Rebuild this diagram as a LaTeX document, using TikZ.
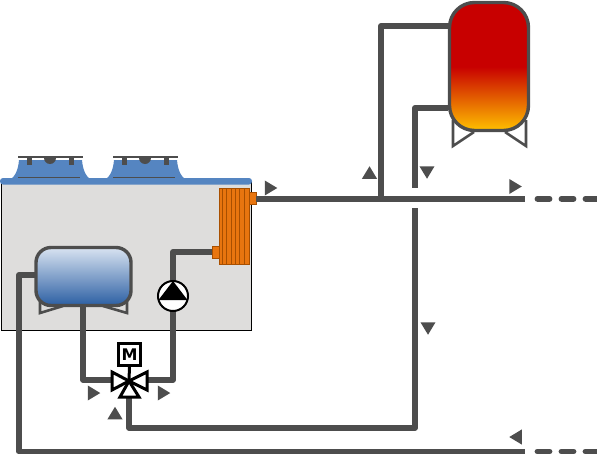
\documentclass[tikz,border=0pt]{standalone}
\usepackage{fontspec}
\setsansfont{DejaVu Sans}
\usetikzlibrary{shapes.geometric}
\definecolor{pipegray}{HTML}{4D4D4D}
\definecolor{housing}{HTML}{DEDDDC}
\definecolor{fanblue}{HTML}{5585C1}
\definecolor{coilorange}{HTML}{E8750F}
\definecolor{coilline}{HTML}{A84F00}
\definecolor{hotred}{HTML}{C80000}
\definecolor{hotyellow}{HTML}{FFBF00}
\definecolor{coldtop}{HTML}{D8E3F1}
\definecolor{coldlow}{HTML}{2C5FA3}
\tikzset{
  pipe/.style={pipegray, line width=5.8pt, line join=round},
  pipeend/.style={pipegray, line width=5.8pt, line cap=round, dash pattern=on 12pt off 12pt},
  tankleg/.style={pipegray, line width=2.6pt},
  tankbody/.style={draw=pipegray, line width=3.4pt, inner sep=0pt, outer sep=0pt},
  flowtip/.style={isosceles triangle, isosceles triangle apex angle=62, fill=pipegray, inner sep=0pt, outer sep=0pt, minimum height=12.5pt},
  coilpart/.style={draw=coilline, fill=coilorange, line width=0.8pt, inner sep=0pt, outer sep=0pt},
  valvepart/.style={draw=black, fill=white, line width=3pt, line join=miter}
}
\begin{document}
\begin{tikzpicture}[x=1pt,y=-1pt]
\useasboundingbox (0,0) rectangle (597,455);
% housing
\draw[black, fill=housing, line width=0.8pt] (1,182) rectangle (251,330);
% fans
\foreach \fx in {0,95} {
  \begin{scope}[xshift=\fx pt]
    \fill[fanblue] (8,181) .. controls (14,178) and (18,172) .. (19,160) -- (82,160) .. controls (83,172) and (87,178) .. (93,181) -- cycle;
    \draw[pipegray, line width=1pt] (18,177) -- (80,177);
    \fill[pipegray] (44,158) arc[start angle=180, end angle=0, x radius=6, y radius=6] -- cycle;
    \draw[pipegray, line width=5pt] (29,157) -- (29,164.5);
    \draw[pipegray, line width=5pt] (71,157) -- (71,164.5);
    \draw[pipegray, line width=2.8pt] (18,157) -- (83,157);
  \end{scope}
}
\fill[fanblue, rounded corners=3pt] (0,184.5) -- (0,178) -- (252,178) -- (252,184.5) -- cycle;
% coordinates on the pipes
\coordinate (flowend) at (525,198.7);
\coordinate (returnend) at (525,451.5);
\coordinate (teeup) at (381,198.7);
\coordinate (hottop) at (448,26);
\coordinate (hotlow) at (448,108);
\coordinate (dropcut) at (415,188);
\coordinate (dropout) at (415,208);
\coordinate (mixbottom) at (129,428);
\coordinate (coldout) at (35,275);
\coordinate (coldcorner) at (19,275);
\coordinate (coldbase) at (83,306);
\coordinate (valveleft) at (83,380);
\coordinate (pumpcorner) at (173,252);
\coordinate (valveright) at (173,380);
% hot tank legs and blue tank legs
\draw[tankleg] (453,120) -- (453,146) -- (474,132);
\draw[tankleg] (526,120) -- (526,146) -- (505,132);
\draw[tankleg] (40,298) -- (40,313) -- (63,306);
\draw[tankleg] (127,298) -- (127,313) -- (103,306);
% coil
\node[coilpart, minimum width=7pt, minimum height=12pt] (coilout) at (252.5,198.7) {};
\node[coilpart, minimum width=7pt, minimum height=12pt] (coilin) at (215.5,252) {};
\node[coilpart, minimum width=30pt, minimum height=76pt] (coil) at (234,226) {};
\foreach \cx in {222.5,226.8,231.1,235.4,239.7,244} {
  \draw[coilline, line width=0.8pt] (\cx,188) -- (\cx,264);
}
% pipes
\draw[pipe] (coilout.east) -- (flowend);
\draw[pipeend] (537.5,198.7) -- (597,198.7);
\draw[pipeend] (537.5,451.5) -- (597,451.5);
\draw[pipe] (teeup) |- (hottop);
\draw[pipe] (hotlow) -| (dropcut);
\draw[pipe] (dropout) |- (mixbottom) -- (129,397);
\draw[pipe] (coldout) -- (coldcorner) |- (returnend);
\draw[pipe] (coldbase) |- (valveleft) -- (111,380);
\draw[pipe] (coilin.west) -- (pumpcorner) |- (valveright) -- (147,380);
% tanks
\node[tankbody, rounded corners=25pt, top color=hotred, bottom color=hotyellow, middle color=hotred, minimum width=79pt, minimum height=128pt] (hottank) at (489,66.5) {};
\node[tankbody, rounded corners=15pt, top color=coldtop, bottom color=coldlow, minimum width=95pt, minimum height=58pt] (coldtank) at (83.5,276.5) {};
% pump
\node[circle, draw=black, fill=white, line width=2pt, minimum size=30pt, inner sep=0pt, outer sep=0pt] (pump) at (173,296) {};
\fill[black] (173,281) -- (187.5,300) -- (158.5,300) -- cycle;
% mixing valve
\node[draw=black, fill=white, line width=3pt, minimum width=22pt, minimum height=22pt, inner sep=0pt, outer sep=0pt, font=\sffamily\bfseries\fontsize{16}{16}\selectfont] (motor) at (129.5,354.5) {M};
\coordinate (valve) at (129,381);
\draw[black, line width=3pt] (motor.south) -- (valve);
\draw[valvepart] (valve) -- (112,372) -- (112,390) -- cycle;
\draw[valvepart] (valve) -- (147,372) -- (147,390) -- cycle;
\draw[valvepart] (valve) -- (120,397) -- (139,397) -- cycle;
% flow marks
\foreach \nm/\px/\py/\ang in {flowa/269/188/0, flowb/513.5/186.5/0, flowc/92/393/0, flowd/162/393/0, flowe/369.5/174.5/90, flowf/115/415/90, flowg/427/170.5/-90, flowh/428/326.5/-90, flowi/517.5/437/180} {
  \node[flowtip, rotate=\ang] (\nm) at (\px,\py) {};
}
\end{tikzpicture}
\end{document}
